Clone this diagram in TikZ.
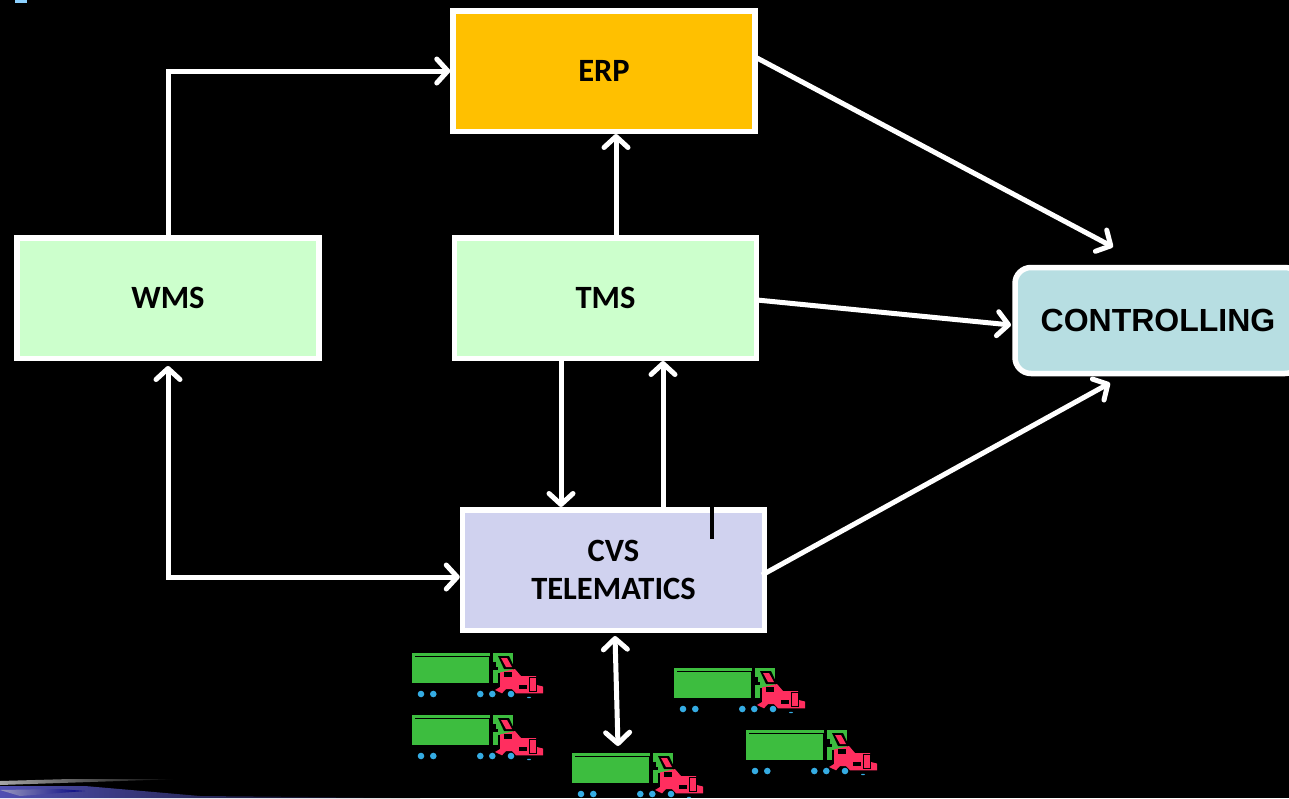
\documentclass[tikz,border=0pt]{standalone}
\usepackage{fontspec}
\setmainfont{Carlito}
\newfontfamily\arialfont{Liberation Sans}
\usetikzlibrary{arrows.meta,calc}
\definecolor{erpc}{HTML}{FFC000}
\definecolor{greenbox}{HTML}{CCFFCC}
\definecolor{cvsc}{HTML}{D0D2EF}
\definecolor{ctrlc}{HTML}{B7DEE2}
\definecolor{trailer}{HTML}{3DBD3F}
\definecolor{cabc}{HTML}{FF2E5F}
\definecolor{wheelc}{HTML}{35ACE3}
\tikzset{
  x=1pt,y=-1pt,
  barb/.tip={Straight Barb[length=11pt,width=24pt,line width=5pt,round]},
  boxnode/.style={draw=white,line width=5.5pt,minimum width=302pt,minimum height=120.5pt,inner sep=0pt,align=center,font=\bfseries\fontsize{32.5}{38}\selectfont,text=black},
  link/.style={draw=white,line width=5pt,-barb},
  biglink/.style={draw=white,line width=5pt,barb-barb},
  truck/.pic={
    \fill[trailer] (0,0) rectangle (78,30);
    \draw[black,line width=1.4pt] (3,3.5) -- (78,3.5) -- (78,30);
    \fill[trailer] (80.5,0) rectangle (83.5,9);
    \fill[trailer] (80.5,17) rectangle (86,30);
    \fill[trailer] (83.5,0) rectangle (101,20);
    \fill[black] (86,3) -- (97,3) -- (103,16) -- (92,16) -- cycle;
    \fill[cabc] (89,5) -- (95,5) -- (100,14) -- (94,14) -- cycle;
    \fill[black] (82,14) -- (86,14) -- (86,17) -- (82,17) -- cycle;
    \fill[cabc] (88,19.5) -- (103,16) -- (109,23) -- (124,23) -- (125,32) -- (131,33.5) -- (131,40.3) -- (104,40.3) -- (100,36) -- (94,36) -- (90,40.3) -- (83,37) -- (88,34) -- cycle;
    \fill[black] (92,18.7) -- (100,18.7) -- (100,24) -- (92,24) -- cycle;
    \fill[black] (107,32) rectangle (115,35.5);
    \draw[black,line width=.9pt] (117.5,24.5) rectangle (124,38);
    \foreach \wx in {9,21.3,68.3,80.3,99}{\fill[wheelc] (\wx,41) circle (3.3);}
    \fill[wheelc] (117,44.5) ellipse (2 and .7);
  }
}
\begin{document}
\begin{tikzpicture}
\useasboundingbox (0,0) rectangle (1289,798);
\fill[black] (0,0) rectangle (1289,798);
% decorative remains of the slide background
\fill[blue!40!cyan!45!white] (15,0) rectangle (27,3);
\begin{scope}
\clip (0,0) rectangle (1289,798);
\shade[left color=gray!70,right color=black] (0,781) -- (70,779) -- (180,779) -- (0,785) -- cycle;
\shade[left color=blue!55!white!70!black,right color=black] (0,786) -- (85,786) -- (200,796) -- (420,798) -- (0,798) -- cycle;
\shade[left color=blue!20!white!75!black,right color=blue!50!black] (0,790) -- (60,789) -- (85,791) -- (20,796) -- cycle;
\end{scope}
% boxes
\node[boxnode,fill=erpc] (erp) at (604,71) {\raisebox{-3pt}{ERP}};
\node[boxnode,fill=greenbox] (wms) at (168,298) {\raisebox{-3pt}{WMS}};
\node[boxnode,fill=greenbox] (tms) at (605.5,298) {\raisebox{-3pt}{TMS}};
\node[boxnode,fill=cvsc] (cvs) at (613.5,570) {\raisebox{-3pt}{CVS}\\\raisebox{-3pt}{TELEMATICS}};
\node[draw=white,line width=5.5pt,fill=ctrlc,rounded corners=16pt,minimum width=286pt,minimum height=106pt,inner sep=0pt,font=\arialfont\bfseries\fontsize{32}{38}\selectfont,text=black] (ctrl) at (1158,320.5) {\raisebox{-1pt}{CONTROLLING}};
% named free ends
\coordinate (erpout) at (757,58);
\coordinate (ctrltop) at (1113,247);
\coordinate (tmsout) at (757,300);
\coordinate (ctrlleft) at (1011,325);
\coordinate (cvsout) at (762,575);
\coordinate (ctrlbot) at (1110,383);
\coordinate (wmsbot) at (168,366);
\coordinate (cvsbot) at (615,636);
\coordinate (fleet) at (618,746);
\coordinate (tickA) at (712,505);
\coordinate (tickB) at (712,539);
% connectors
\draw[link] (wms.north) |- (erp.west);
\draw[link] ([xshift=10.5pt]tms.north) -- ([xshift=12pt]erp.south);
\draw[link] (erpout) -- (ctrltop);
\draw[link] (tmsout) -- (ctrlleft);
\draw[link] (cvsout) -- (ctrlbot);
\draw[link] ([xshift=-44.5pt]tms.south) -- ([xshift=-52.5pt]cvs.north);
\draw[link] ([xshift=49.5pt]cvs.north) -- ([xshift=57.5pt]tms.south);
\draw[biglink] (wmsbot) |- ([yshift=-7pt]cvs.west);
\draw[biglink] (cvsbot) -- (fleet);
\draw[black,line width=3.5pt] (tickA) -- (tickB);
% trucks
\pic at (412,653) {truck};
\pic at (412,715) {truck};
\pic at (674,668) {truck};
\pic at (746,730) {truck};
\pic at (572,753) {truck};
\end{tikzpicture}
\end{document}
